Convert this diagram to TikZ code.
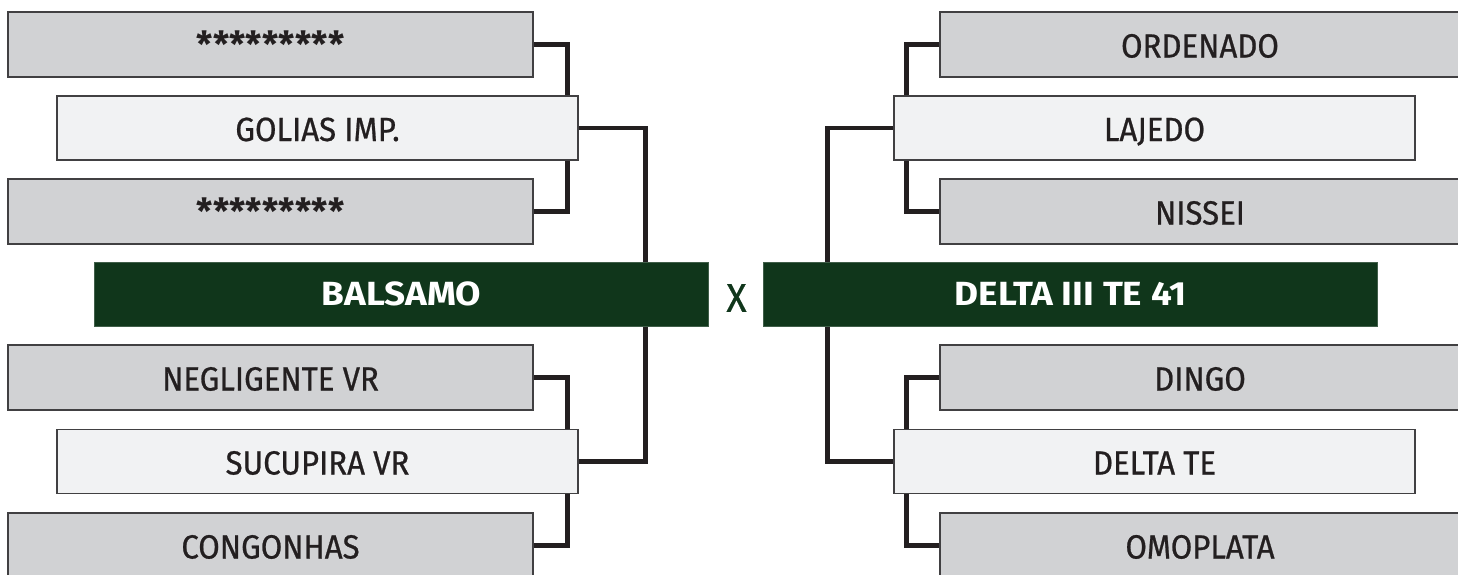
\documentclass[tikz,border=0pt]{standalone}
\usepackage{fontspec}
\newfontfamily\cond[FakeStretch=0.93,FakeBold=0.7]{Fira Sans}
\newfontfamily\condbold[FakeStretch=1.1]{Fira Sans Bold}
\newfontfamily\condast[FakeStretch=1.0]{Fira Sans Bold}
\usetikzlibrary{backgrounds}
\definecolor{ink}{HTML}{231F20}
\definecolor{grayfill}{HTML}{D1D2D4}
\definecolor{lightfill}{HTML}{F1F2F3}
\definecolor{boxedge}{HTML}{414042}
\definecolor{darkgreen}{HTML}{10361B}
\begin{document}
\begin{tikzpicture}[x=1pt,y=-1pt,
  entry/.style={draw=boxedge, line width=1.2pt, fill=grayfill, minimum width=525pt, minimum height=65pt,
    inner sep=0pt, text height=26pt, text depth=0pt, font=\cond\fontsize{33.5}{33.5}\selectfont, text=ink},
  rentry/.style={entry, minimum width=520pt},
  seed/.style={entry, fill=lightfill, minimum width=521pt, minimum height=64pt},
  stars/.style={font=\condast\fontsize{36}{36}\selectfont},
  finalist/.style={draw=darkgreen!80!white, line width=0.8pt, fill=darkgreen, minimum width=614pt, minimum height=64pt,
    inner sep=0pt, font=\condbold\fontsize{33.5}{33.5}\selectfont, text=white},
  conn/.style={line width=4.5pt, draw=ink, line join=miter}]
\useasboundingbox (0,0) rectangle (1458,574);
\clip (0,0) rectangle (1458,574);
% left side
\node[entry,stars] (l1) at (270.5,44.5) {*********};
\node[seed]  (l2) at (317.5,128) {GOLIAS IMP.};
\node[entry,stars] (l3) at (270.5,211.5) {*********};
\node[entry] (l4) at (270.5,377.5) {NEGLIGENTE VR};
\node[seed]  (l5) at (317.5,461.5) {SUCUPIRA VR};
\node[entry] (l6) at (270.5,545.5) {CONGONHAS};
% right side
\node[rentry] (r1) at (1200,44.5) {ORDENADO};
\node[seed]  (r2) at (1154.5,128) {LAJEDO};
\node[rentry] (r3) at (1200,211.5) {NISSEI};
\node[rentry] (r4) at (1200,377.5) {DINGO};
\node[seed]  (r5) at (1154.5,461.5) {DELTA TE};
\node[rentry] (r6) at (1200,545.5) {OMOPLATA};
% finalists
\node[finalist] (fl) at (401.5,294) {BALSAMO};
\node[finalist] (fr) at (1070.5,294) {DELTA III TE 41};
\node[font=\cond\fontsize{40}{40}\selectfont, text=darkgreen, inner sep=0pt] (vs) at (736.5,298) {X};
\begin{scope}[on background layer]
  \draw[conn] (l1.east) -- ++(34,0) |- (l3.east);
  \draw[conn] (l4.east) -- ++(34,0) |- (l6.east);
  \draw[conn] (l2.east) -- ++(67,0) |- (l5.east);
  \draw[conn] (r1.west) -- ++(-33,0) |- (r3.west);
  \draw[conn] (r4.west) -- ++(-33,0) |- (r6.west);
  \draw[conn] (r2.west) -- ++(-66,0) |- (r5.west);
\end{scope}
\end{tikzpicture}
\end{document}
